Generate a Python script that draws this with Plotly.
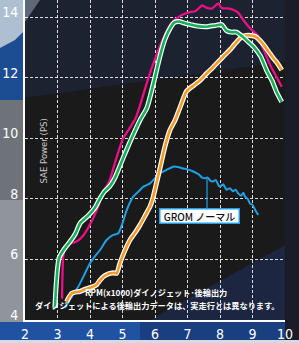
import plotly.graph_objects as go

# ---------------- data ----------------
pink_x = [3.14, 3.17, 3.22, 3.35, 3.6, 3.8, 4.0, 4.2, 4.4, 4.6, 4.8, 5.0, 5.2, 5.4, 5.6, 5.8, 6.1, 6.3, 6.5,
          6.8, 7.05, 7.25, 7.45, 7.6, 7.75, 7.95, 8.05, 8.3, 8.55, 8.75, 8.95, 9.15, 9.35, 9.55, 9.75, 9.9]
pink_y = [4.7, 6.0, 6.35, 6.5, 6.6, 6.8, 7.15, 7.6, 8.2, 8.6, 9.3, 9.95, 10.3, 10.65, 11.3, 12.0, 12.9, 13.4, 13.8,
          14.05, 14.15, 14.2, 14.38, 14.3, 14.28, 14.45, 14.3, 14.28, 14.15, 13.85, 13.6, 13.4, 12.9, 12.4, 12.0, 11.7]

green_x = [2.92, 2.95, 3.0, 3.05, 3.18, 3.38, 3.55, 3.7, 3.95, 4.15, 4.3, 4.45, 4.6, 4.77, 5.02, 5.28, 5.54, 5.75,
           5.95, 6.15, 6.3, 6.45, 6.6, 6.75, 6.9, 7.1, 7.3, 7.6, 7.85, 8.05, 8.2, 8.35, 8.5, 8.7, 8.85, 9.05, 9.25,
           9.45, 9.6, 9.75, 9.9]
green_y = [4.4, 5.0, 5.7, 6.05, 6.3, 6.58, 6.85, 7.2, 7.45, 7.7, 8.0, 8.25, 8.4, 8.7, 9.35, 10.0, 10.6, 11.0,
           11.8, 12.7, 13.25, 13.6, 13.82, 13.85, 13.8, 13.75, 13.7, 13.68, 13.72, 13.75, 13.55, 13.5, 13.5, 13.35,
           13.2, 13.0, 12.7, 12.2, 11.9, 11.5, 11.2]

orange_x = [3.28, 3.35, 3.44, 3.55, 3.69, 3.82, 3.95, 4.1, 4.2, 4.3, 4.41, 4.52, 4.62, 4.72, 4.82, 4.92, 5.0, 5.08,
            5.23, 5.4, 5.54, 5.7, 5.85, 5.93, 6.15, 6.3, 6.46, 6.62, 6.8, 6.97, 7.2, 7.38, 7.59, 7.75, 7.9, 8.1, 8.3,
            8.45, 8.62, 8.75, 8.87, 9.0, 9.13, 9.25, 9.38, 9.5, 9.64, 9.75, 9.9]
orange_y = [4.6, 4.75, 4.88, 4.92, 4.94, 5.0, 5.05, 5.1, 5.16, 5.3, 5.43, 5.5, 5.54, 5.56, 5.54, 5.87, 6.1, 6.31,
            6.64, 6.9, 7.14, 7.45, 7.75, 8.0, 9.0, 9.7, 10.27, 10.6, 11.1, 11.55, 11.75, 11.9, 12.14, 12.3, 12.47,
            12.7, 12.91, 13.1, 13.3, 13.38, 13.4, 13.38, 13.33, 13.2, 13.03, 12.85, 12.64, 12.5, 12.25]

blue_x = [3.23, 3.4, 3.55, 3.69, 3.85, 4.0, 4.15, 4.31, 4.51, 4.7, 4.87, 5.0, 5.13, 5.33, 5.5, 5.64, 5.85, 6.0,
          6.15, 6.35, 6.56, 6.7, 6.87, 7.0, 7.18, 7.35, 7.45, 7.54, 7.62, 7.7, 7.79, 7.87, 7.95, 8.0, 8.1, 8.2,
          8.3, 8.4, 8.48, 8.56, 8.65, 8.72, 8.77, 8.85, 8.92, 9.0, 9.1, 9.18]
blue_y = [4.4, 4.7, 4.95, 5.2, 5.55, 5.87, 6.1, 6.31, 6.64, 6.8, 6.86, 7.2, 7.63, 8.07, 8.25, 8.4, 8.51, 8.68,
          8.84, 8.95, 9.06, 9.05, 9.0, 8.97, 8.9, 8.8, 8.7, 8.68, 8.7, 8.6, 8.57, 8.62, 8.45, 8.4, 8.48, 8.3,
          8.35, 8.25, 8.3, 8.18, 8.1, 8.2, 8.07, 8.0, 7.85, 7.8, 7.6, 7.47]

x_ticks = [2, 3, 4, 5, 6, 7, 8, 9, 10]
y_ticks = [4, 6, 8, 10, 12, 14]

blue_label = "GROM ノーマル"
y_title = "SAE Power (PS)"
note1 = "RPM(x1000)ダイノジェット･後輪出力"
note2 = "ダイノジェットによる後輪出力データは、実走行とは異なります。"

# ---------------- figure ----------------
W, H = 299, 343
L, R, T, B = 25, 14, 0, 23
PW, PH = W - L - R, H - T - B


def px(x):
    return (x - L) / PW


def py(y):
    return (H - B - y) / PH


fig = go.Figure()

for xs, ys, col, w, outline in [
    (blue_x, blue_y, "#1fa0e6", 2.0, False),
    (pink_x, pink_y, "#ec0f86", 2.3, False),
    (orange_x, orange_y, "#f99a26", 2.6, True),
    (green_x, green_y, "#14b15a", 2.6, True),
]:
    if outline:
        fig.add_trace(go.Scatter(x=xs, y=ys, mode="lines",
                                 line=dict(color="white", width=w + 2.4, shape="spline", smoothing=0.6),
                                 hoverinfo="skip", showlegend=False))
    fig.add_trace(go.Scatter(x=xs, y=ys, mode="lines", line=dict(color=col, width=w, shape="spline", smoothing=0.6),
                             showlegend=False))

shapes = []


def rect(x0, y0, x1, y1, color):
    shapes.append(dict(type="rect", xref="paper", yref="paper", x0=px(x0), x1=px(x1), y0=py(y1), y1=py(y0),
                       fillcolor=color, line=dict(width=0), layer="below"))


def poly(points, color):
    path = "M " + " L ".join(f"{px(a)},{py(b)}" for a, b in points) + " Z"
    shapes.append(dict(type="path", xref="paper", yref="paper", path=path,
                       fillcolor=color, line=dict(width=0), layer="below"))


# left strip
rect(0, 0, 25, 100, "#1c4c92")
poly([(0, 0), (45, 0), (30, 25), (15, 40), (0, 48)], "#aebfd2")
rect(0, 100, 25, 200, "#6e7379")
rect(0, 200, 25, 322, "#8f959b")
# plot area tones
poly([(25, 0), (299, 0), (299, 60), (25, 98)], "#1d2231")
poly([(25, 98), (299, 60), (299, 320), (25, 320)], "#1a1a1b")
poly([(25, 0), (40, 0), (25, 22)], "#5d6878")
poly([(150, 320), (285, 245), (285, 320)], "#1c2640")
rect(285, 0, 299, 343, "#1a1d27")
# bottom band
rect(0, 322, 140, 340, "#1f52a0")
rect(140, 322, 285, 340, "#1a3f80")
rect(0, 340, 299, 343, "#d3dce6")

# leader line from label to blue curve
shapes.append(dict(type="line", xref="x", yref="y", x0=7.6, x1=7.6, y0=7.7, y1=blue_y[27],
                   line=dict(color="#1fa0e6", width=1.2)))

fig.update_layout(shapes=shapes)

ann = [
    dict(x=7.38, y=7.43, xref="x", yref="y", text=blue_label, showarrow=False,
         font=dict(family="Noto Sans CJK JP", size=10, color="#111111", weight=500),
         bgcolor="white", bordercolor="#1fa0e6", borderwidth=1.5, borderpad=1, width=76, height=11),
    dict(x=px(35), y=py(151), xref="paper", yref="paper", text=y_title, showarrow=False, textangle=-90,
         font=dict(family="DejaVu Sans Condensed, Liberation Sans Narrow", size=9.5, color="#c9c9c9")),
    dict(x=px(156), y=py(300), xref="paper", yref="paper", text=note1, showarrow=False,
         font=dict(family="Noto Sans CJK JP", size=8.2, color="white", weight="bold")),
    dict(x=px(157), y=py(312.5), xref="paper", yref="paper", text=note2, showarrow=False,
         font=dict(family="Noto Sans CJK JP", size=8.2, color="white", weight="bold")),
]
fig.update_layout(annotations=ann)

tickfont = dict(family="DejaVu Sans Condensed, Liberation Sans Narrow", size=14, color="white")
fig.update_xaxes(range=[2, 10], tickvals=x_ticks, showgrid=True, gridcolor="rgba(255,255,255,0.85)",
                 griddash="3px,2px", gridwidth=1.2, showline=True, linecolor="white", linewidth=2,
                 zeroline=False, ticks="", ticklen=0, tickfont=tickfont, ticklabelstandoff=0,
                 automargin=False, fixedrange=True)
fig.update_yaxes(range=[4, 4 + 320 / 30.3], tickvals=y_ticks, showgrid=True, gridcolor="rgba(255,255,255,0.85)",
                 griddash="3px,2px", gridwidth=1.2, showline=True, linecolor="white", linewidth=2,
                 zeroline=False, ticks="", ticklen=0, tickfont=tickfont, ticklabelshift=-5, ticklabelstandoff=2,
                 automargin=False, fixedrange=True)

fig.update_layout(width=W, height=H, margin=dict(l=L, r=R, t=T, b=B),
                  paper_bgcolor="#171a21", plot_bgcolor="rgba(0,0,0,0)", showlegend=False)

fig.write_html("out.html", config={"displayModeBar": False},
               post_script="document.body.style.margin='0';document.body.style.padding='0';"
                           "document.body.style.overflow='hidden';")
